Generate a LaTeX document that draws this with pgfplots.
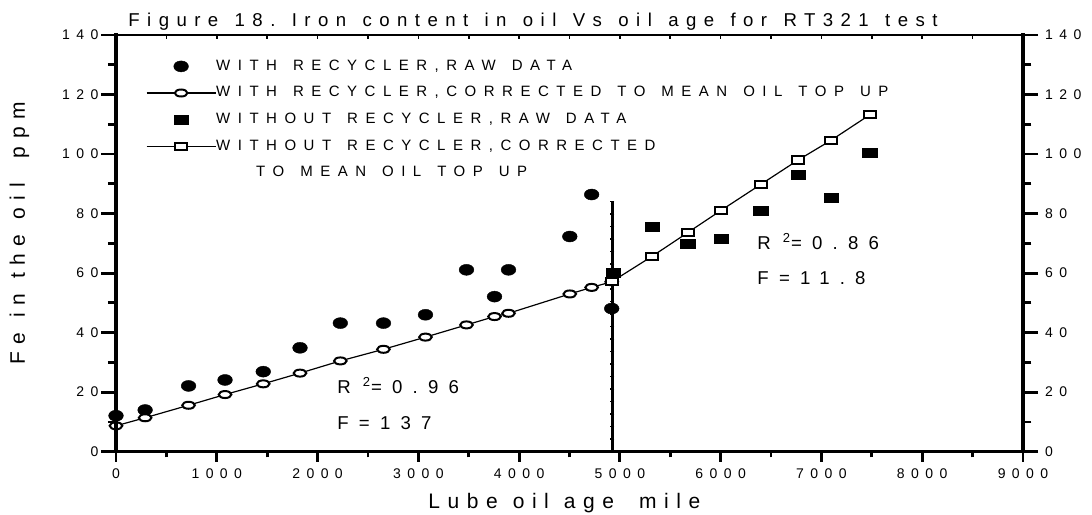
\documentclass[border=0pt]{standalone}
\usepackage{fontspec}
\setmainfont{Liberation Sans}
\newfontfamily\tickf[LetterSpace=46]{Liberation Sans}
\newfontfamily\legf[LetterSpace=50]{Liberation Sans}
\newfontfamily\titf[LetterSpace=40]{Liberation Sans}
\newfontfamily\labf[LetterSpace=36]{Liberation Sans}
\newfontfamily\annf[LetterSpace=55]{Liberation Sans}
\usepackage{pgfplots}
\pgfplotsset{compat=1.18}
\pgfplotsset{
  rawA/.style={only marks, mark=*, mark size=2.75pt, mark options={xscale=1.34, fill=black, draw=black, line width=0.2pt}},
  corA/.style={black, line width=0.6pt, mark=*, mark size=1.75pt, mark options={xscale=1.8, fill=white, draw=black, line width=1pt}},
  rawB/.style={only marks, mark=square*, mark size=2.25pt, mark options={xscale=1.58, fill=black, draw=black, line width=0.2pt}},
  corB/.style={black, line width=0.6pt, mark=square*, mark size=1.8pt, mark options={xscale=1.67, fill=white, draw=black, line width=1pt}},
  common/.style={scale only axis, width=453.5pt, height=208.35pt,
    xmin=0, xmax=9000, ymin=0, ymax=140, at={(0,0)}, anchor=south west, clip=false,
    /pgf/number format/assume math mode=true, /pgf/number format/1000 sep={},
    scaled ticks=false, tick style={black, line width=1.4pt},
    tick label style={font=\fontsize{7}{8}\tickf}},
}
\newcommand{\LE}[1]{\rule{0pt}{5.4pt}\smash{#1}}
\newcommand{\legsp}{\hspace{8pt}}
\newcommand{\titsp}{\hspace{8.2pt}}
\newcommand{\labsp}{\hspace{7.5pt}}
\begin{document}
\begin{tikzpicture}
\useasboundingbox (-58pt,-31.15pt) rectangle (488pt,225.85pt);
% main axis with data, bottom ticks
\begin{axis}[common, axis x line*=bottom, hide y axis,
  x axis line style={-, line width=1.6pt, line cap=rect},
  tick align=outside,
  xtick={0,1000,...,9000}, minor x tick num=1,
  major tick length=5pt, minor tick length=2.8pt,
  legend style={draw=none, fill=none, at={(0.0331,0.9412)}, anchor=north west,
    font=\fontsize{7.5}{9}\legf, inner sep=0pt, outer sep=0pt, row sep=6.4pt,
    nodes={inner sep=0pt},
    /tikz/every even column/.append style={column sep=0pt}},
  legend cell align=left,
  legend image code/.code={\draw[mark repeat=2,mark phase=2,#1] plot coordinates {(0pt,0pt) (17.25pt,0pt) (34.5pt,0pt)};},
]
\addlegendimage{rawA}
\addlegendentry{\LE{WITH\legsp RECYCLER,RAW\legsp DATA}}
\addlegendimage{corA}
\addlegendentry{\LE{WITH\legsp RECYCLER,CORRECTED\legsp TO\legsp MEAN\legsp OIL\legsp TOP\legsp UP}}
\addlegendimage{rawB}
\addlegendentry{\LE{WITHOUT\legsp RECYCLER,RAW\legsp DATA}}
\addlegendimage{corB}
\addlegendentry{\LE{WITHOUT\legsp RECYCLER,CORRECTED}}
\addlegendimage{empty legend}
\addlegendentry{\LE{\hspace{20pt}TO\legsp MEAN\legsp OIL\legsp TOP\legsp UP}}
% with recycler, raw
\addplot[rawA, forget plot] coordinates {
(0,12.1) (289,14.0) (720,22.1) (1082,24.1) (1461,26.9) (1826,34.9) (2226,43.2)
(2654,43.2) (3071,46.0) (3478,61.1) (3756,52.1) (3895,61.1) (4503,72.3) (4720,86.4) (4919,48.1)};
% without recycler, raw
\addplot[rawB, forget plot] coordinates {
(4930,60.1) (5322,75.7) (5673,70.0) (6005,71.5) (6398,81.1) (6769,93.2) (7095,85.3) (7480,100.3)};
% with recycler, corrected
\addplot[corA, forget plot] coordinates {
(0,8.7) (289,11.4) (720,15.6) (1082,19.2) (1461,22.8) (1826,26.4) (2226,30.5)
(2654,34.4) (3071,38.5) (3478,42.6) (3756,45.4) (3895,46.5) (4503,53.0) (4720,55.2) (4919,57.1)};
% without recycler, corrected
\addplot[corB, forget plot] coordinates {
(4919,57.1) (5322,65.7) (5673,73.6) (6005,81.1) (6398,89.8) (6769,98.0) (7095,104.6) (7480,113.2)};
% vertical divider line
\addplot[black, line width=1.5pt, mark=-, mark size=1pt, mark options={line width=0.8pt}, forget plot] coordinates {
(4926,0) (4926,4.2) (4926,8.4) (4926,12.6) (4926,16.8) (4926,21) (4926,25.2) (4926,29.4)
(4926,33.6) (4926,37.8) (4926,42) (4926,46.2) (4926,50.4) (4926,54.6) (4926,58.8) (4926,63)
(4926,67.2) (4926,71.4) (4926,75.6) (4926,79.8) (4926,84)};
\end{axis}
% left y axis
\begin{axis}[common, axis y line*=left, hide x axis,
  y axis line style={-, line width=1.6pt, line cap=rect},
  tick align=outside,
  ytick={0,20,...,140}, minor y tick num=1,
  yticklabel style={xshift=2pt},
  major tick length=7.3pt, minor tick length=4pt]
\end{axis}
% right y axis
\begin{axis}[common, axis y line*=right, hide x axis,
  y axis line style={-, line width=1.6pt, line cap=rect},
  tick align=outside,
  ytick={0,20,...,140}, minor y tick num=1,
  major tick length=7.5pt, minor tick length=4.2pt]
\end{axis}
% top line
\begin{axis}[common, axis x line*=top, hide y axis,
  x axis line style={-, line width=1pt},
  tick align=inside, xtick={0,500,...,9000}, xticklabels={},
  tick style={black, line width=0.8pt},
  major tick length=2pt]
\end{axis}
\node[anchor=base west, inner sep=0pt, font=\fontsize{9.3}{11}\titf] at (6pt,212.35pt)
  {Figure\titsp 18.\titsp Iron\titsp content\titsp in\titsp oil\titsp Vs\titsp oil\titsp age\titsp for\titsp RT321\titsp test};
\node[anchor=base west, inner sep=0pt, font=\fontsize{10.5}{12}\labf] at (156pt,-28.65pt)
  {Lube\labsp oil\labsp age\hspace{12.5pt}mile};
\node[anchor=base west, inner sep=0pt, rotate=90, font=\fontsize{10.5}{12}\labf] at (-45.5pt,43.35pt)
  {Fe\labsp in\labsp the\labsp oil\hspace{12.5pt}ppm};
\node[anchor=base west, inner sep=0pt, font=\fontsize{9.3}{11}\annf] at (110.5pt,28.85pt)
  {R\hspace{6pt}\textsuperscript{2}=0.96};
\node[anchor=base west, inner sep=0pt, font=\fontsize{9.3}{11}\annf] at (110.5pt,10.85pt)
  {F=137};
\node[anchor=base west, inner sep=0pt, font=\fontsize{9.3}{11}\annf] at (320.5pt,100.85pt)
  {R\hspace{6pt}\textsuperscript{2}=0.86};
\node[anchor=base west, inner sep=0pt, font=\fontsize{9.3}{11}\annf] at (320.5pt,83.7pt)
  {F=11.8};
\end{tikzpicture}
\end{document}
